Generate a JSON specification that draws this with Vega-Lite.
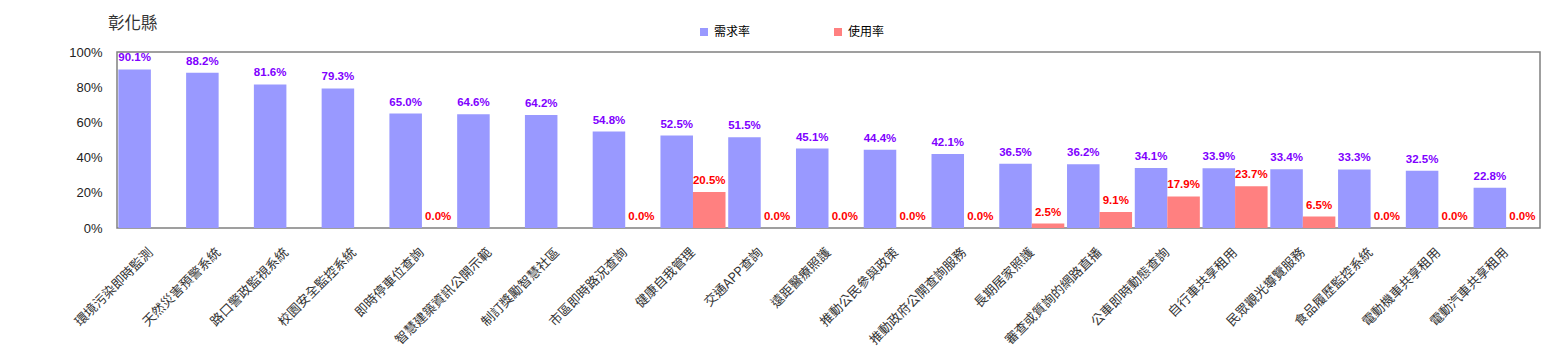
{
  "$schema": "https://vega.github.io/schema/vega-lite/v6.json",
  "width": 1423,
  "height": 176,
  "autosize": {"type": "none"},
  "padding": {"left": 117, "top": 52, "right": 27, "bottom": 124},
  "background": "white",
  "title": {
    "text": "彰化縣",
    "anchor": "start",
    "frame": "group",
    "font": "Noto Sans CJK TC",
    "fontSize": 16.5,
    "fontWeight": "normal",
    "color": "#333333",
    "baseline": "alphabetic",
    "dx": -9,
    "offset": -19
  },
  "data": {
    "values": [
      {"item": "環境污染即時監測", "series": "需求率", "rate": 0.901},
      {"item": "天然災害預警系統", "series": "需求率", "rate": 0.882},
      {"item": "路口警政監視系統", "series": "需求率", "rate": 0.816},
      {"item": "校園安全監控系統", "series": "需求率", "rate": 0.793},
      {"item": "即時停車位查詢", "series": "需求率", "rate": 0.650},
      {"item": "即時停車位查詢", "series": "使用率", "rate": 0.0},
      {"item": "智慧建築資訊公開示範", "series": "需求率", "rate": 0.646},
      {"item": "制訂獎勵智慧社區", "series": "需求率", "rate": 0.642},
      {"item": "市區即時路況查詢", "series": "需求率", "rate": 0.548},
      {"item": "市區即時路況查詢", "series": "使用率", "rate": 0.0},
      {"item": "健康自我管理", "series": "需求率", "rate": 0.525},
      {"item": "健康自我管理", "series": "使用率", "rate": 0.205},
      {"item": "交通APP查詢", "series": "需求率", "rate": 0.515},
      {"item": "交通APP查詢", "series": "使用率", "rate": 0.0},
      {"item": "遠距醫療照護", "series": "需求率", "rate": 0.451},
      {"item": "遠距醫療照護", "series": "使用率", "rate": 0.0},
      {"item": "推動公民參與政策", "series": "需求率", "rate": 0.444},
      {"item": "推動公民參與政策", "series": "使用率", "rate": 0.0},
      {"item": "推動政府公開查詢服務", "series": "需求率", "rate": 0.421},
      {"item": "推動政府公開查詢服務", "series": "使用率", "rate": 0.0},
      {"item": "長期居家照護", "series": "需求率", "rate": 0.365},
      {"item": "長期居家照護", "series": "使用率", "rate": 0.025},
      {"item": "審查或質詢的網路直播", "series": "需求率", "rate": 0.362},
      {"item": "審查或質詢的網路直播", "series": "使用率", "rate": 0.091},
      {"item": "公車即時動態查詢", "series": "需求率", "rate": 0.341},
      {"item": "公車即時動態查詢", "series": "使用率", "rate": 0.179},
      {"item": "自行車共享租用", "series": "需求率", "rate": 0.339},
      {"item": "自行車共享租用", "series": "使用率", "rate": 0.237},
      {"item": "民眾觀光導覽服務", "series": "需求率", "rate": 0.334},
      {"item": "民眾觀光導覽服務", "series": "使用率", "rate": 0.065},
      {"item": "食品履歷監控系統", "series": "需求率", "rate": 0.333},
      {"item": "食品履歷監控系統", "series": "使用率", "rate": 0.0},
      {"item": "電動機車共享租用", "series": "需求率", "rate": 0.325},
      {"item": "電動機車共享租用", "series": "使用率", "rate": 0.0},
      {"item": "電動汽車共享租用", "series": "需求率", "rate": 0.228},
      {"item": "電動汽車共享租用", "series": "使用率", "rate": 0.0}
    ]
  },
  "encoding": {
    "x": {
      "field": "item",
      "type": "nominal",
      "sort": null,
      "title": null,
      "scale": {"paddingInner": 0.04, "paddingOuter": 0.02},
      "axis": {
        "labelAngle": -45,
        "labelAlign": "right",
        "labelBaseline": "middle",
        "labelFont": "Noto Sans CJK TC",
        "labelFontSize": 13,
        "labelColor": "#333333",
        "labelPadding": 22,
        "ticks": false,
        "domain": false,
        "labelLimit": 300
      }
    },
    "xOffset": {
      "field": "series",
      "type": "nominal",
      "sort": ["需求率", "使用率"],
      "scale": {"paddingInner": 0, "paddingOuter": 0}
    },
    "y": {
      "field": "rate",
      "type": "quantitative",
      "title": null,
      "scale": {"domain": [0, 1], "nice": false},
      "axis": {
        "values": [0, 0.2, 0.4, 0.6, 0.8, 1],
        "format": ".0%",
        "grid": false,
        "ticks": false,
        "domain": false,
        "labelFont": "Liberation Sans",
        "labelFontSize": 13,
        "labelColor": "#222222",
        "labelPadding": 15
      }
    }
  },
  "layer": [
    {
      "mark": {"type": "bar"},
      "encoding": {
        "color": {
          "field": "series",
          "type": "nominal",
          "scale": {"domain": ["需求率", "使用率"], "range": ["#9999FF", "#FF8080"]},
          "legend": {
            "title": null,
            "orient": "none",
            "legendX": 581,
            "legendY": -26,
            "direction": "horizontal",
            "columns": 2,
            "columnPadding": 81,
            "symbolType": "square",
            "symbolSize": 64,
            "symbolStrokeWidth": 0,
            "labelFont": "Noto Sans CJK TC",
            "labelFontSize": 12,
            "labelColor": "#000000",
            "labelOffset": 4,
            "padding": 0
          }
        }
      }
    },
    {
      "mark": {
        "type": "text",
        "baseline": "alphabetic",
        "dy": -8,
        "font": "Liberation Sans",
        "fontSize": 11.5,
        "fontWeight": "bold"
      },
      "encoding": {
        "text": {"field": "rate", "type": "quantitative", "format": ".1%"},
        "color": {
          "condition": {"test": "datum.series === '需求率'", "value": "#8000FF"},
          "value": "#FF0000"
        }
      }
    }
  ],
  "config": {
    "view": {"stroke": "#808080", "strokeWidth": 1.5}
  }
}
